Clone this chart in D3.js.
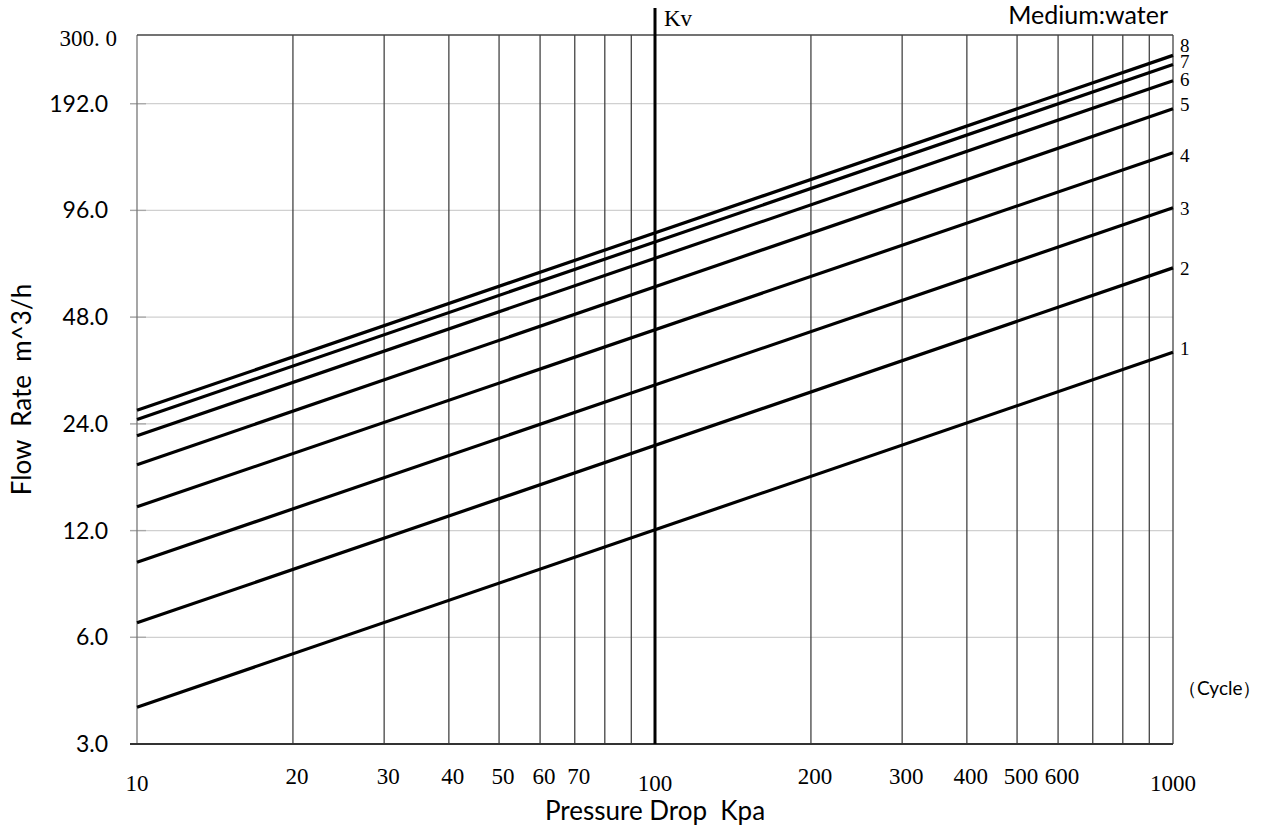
<!DOCTYPE html>
<html>
<head>
<meta charset="utf-8">
<script src="https://cdn.jsdelivr.net/npm/d3@7"></script>
<style>
  body { margin: 0; background: #fff; }
  text { white-space: pre; }
  .serif { font-family: "Liberation Serif", "Times New Roman", serif; }
  .sans { font-family: Lato, "Open Sans", sans-serif; }
</style>
</head>
<body>
<div id="chart"></div>
<script>
// pressure drop (kPa) grid values and the ones that get a label
const pressureGrid = [10, 20, 30, 40, 50, 60, 70, 80, 90, 100, 200, 300, 400, 500, 600, 700, 800, 900, 1000]
const pressureLabels = [10, 20, 30, 40, 50, 60, 70, 100, 200, 300, 400, 500, 600, 1000]

// flow rate ticks
const flowTicks = [3, 6, 12, 24, 48, 96, 192, 300]
const flowTickLabels = ["3.0", "6.0", "12.0", "24.0", "48.0", "96.0", "192.0", "300. 0"]

// cycle curves: flow at 10 kPa and at 1000 kPa
const cycles = [1, 2, 3, 4, 5, 6, 7, 8]
const flowAt10 = [3.81, 6.59, 9.77, 14.0, 18.4, 22.2, 24.7, 26.2]
const flowAt1000 = [38.2, 66.1, 97.7, 139.7, 185.8, 223, 247.8, 262.8]

const W = 1261, H = 830
const margin = {top: 35, right: 88, bottom: 86, left: 137}
const width = W - margin.left - margin.right
const height = H - margin.top - margin.bottom

const svg = d3.select("#chart").append("svg")
    .attr("width", W)
    .attr("height", H)

const g = svg.append("g")
    .attr("transform", "translate(" + margin.left + "," + margin.top + ")")

const x = d3.scaleLog().domain([10, 1000]).range([0, width])
const y = d3.scaleLog().domain([3, 300]).range([height, 0])

// horizontal grid + little ticks
g.selectAll(".hgrid")
    .data(flowTicks.slice(1, -1))
    .enter().append("line")
    .attr("x1", -7).attr("x2", width)
    .attr("y1", d => y(d)).attr("y2", d => y(d))
    .style("stroke", "#d0d0d0")
    .style("stroke-width", 1.3)

g.selectAll(".ytickmark")
    .data(flowTicks.slice(1, -1))
    .enter().append("line")
    .attr("x1", -7).attr("x2", 9)
    .attr("y1", d => y(d)).attr("y2", d => y(d))
    .style("stroke", "#a8a8a8")
    .style("stroke-width", 1.3)

// vertical grid
g.selectAll(".vgrid")
    .data(pressureGrid.filter(d => d != 100))
    .enter().append("line")
    .attr("x1", d => x(d)).attr("x2", d => x(d))
    .attr("y1", 0).attr("y2", height)
    .style("stroke", d => d == 10 ? "#777" : "#444")
    .style("stroke-width", 1.3)

// frame top
g.append("line")
    .attr("x1", 0).attr("x2", width)
    .attr("y1", 0).attr("y2", 0)
    .style("stroke", "#444").style("stroke-width", 1.5)

// bottom axis line
g.append("line")
    .attr("x1", -7).attr("x2", width)
    .attr("y1", height).attr("y2", height)
    .style("stroke", "#333").style("stroke-width", 2)

// Kv line at 100 kPa
g.append("line")
    .attr("x1", x(100)).attr("x2", x(100))
    .attr("y1", -27).attr("y2", height)
    .style("stroke", "#000").style("stroke-width", 3)

g.append("text")
    .attr("class", "serif")
    .attr("x", x(100) + 9).attr("y", -9)
    .style("font-size", "23px")
    .text("Kv")

// cycle lines
const lines = cycles.map((c, i) => ({cycle: c, pts: [[10, flowAt10[i]], [1000, flowAt1000[i]]]}))
const line = d3.line().x(d => x(d[0])).y(d => y(d[1]))

g.selectAll(".cycle")
    .data(lines)
    .enter().append("path")
    .attr("d", d => line(d.pts))
    .style("fill", "none")
    .style("stroke", "#000")
    .style("stroke-width", 3.2)

const labelShift = [-4, 0, 1, 3, -4, -1, -3, -10]
g.selectAll(".cyclelabel")
    .data(lines)
    .enter().append("text")
    .attr("class", "serif")
    .attr("x", width + 7)
    .attr("y", (d, i) => y(d.pts[1][1]) + labelShift[i])
    .attr("dy", "0.35em")
    .style("font-size", "19px")
    .text(d => d.cycle)

// y tick labels
g.selectAll(".ylabel")
    .data(flowTicks)
    .enter().append("text")
    .attr("class", (d, i) => i == flowTicks.length - 1 ? "serif" : "sans")
    .attr("x", (d, i) => i == flowTicks.length - 1 ? -20 : -29)
    .attr("y", d => y(d) + (d == 300 ? 3 : 0))
    .attr("dy", "0.35em")
    .attr("text-anchor", "end")
    .style("font-size", (d, i) => i == flowTicks.length - 1 ? "23px" : "23px")
    .text((d, i) => flowTickLabels[i])

// x tick labels
g.selectAll(".xlabel")
    .data(pressureLabels)
    .enter().append("text")
    .attr("class", "serif")
    .attr("x", d => x(d) + (d == 10 || d == 100 || d == 1000 ? 0 : 4))
    .attr("y", d => height + (d == 10 || d == 100 || d == 1000 ? 39 : 32))
    .attr("dy", "0.35em")
    .attr("text-anchor", "middle")
    .style("font-size", "23px")
    .text(d => d)

// axis titles
g.append("text")
    .attr("class", "sans")
    .attr("x", x(100)).attr("y", height + 76)
    .attr("text-anchor", "middle")
    .style("font-size", "26px")
    .text("Pressure Drop  Kpa")

g.append("text")
    .attr("class", "sans")
    .attr("transform", "translate(-106," + (height / 2) + ") rotate(-90)")
    .attr("text-anchor", "middle")
    .style("font-size", "26px")
    .text("Flow  Rate  m^3/h")

g.append("text")
    .attr("class", "sans")
    .attr("x", width - 5).attr("y", -11)
    .attr("text-anchor", "end")
    .style("font-size", "25px")
    .text("Medium:water")

g.append("text")
    .attr("class", "sans")
    .attr("x", width + 5).attr("y", 653)
    .attr("dy", "0.35em")
    .style("font-size", "19px")
    .text("（Cycle）")
</script>
</body>
</html>
